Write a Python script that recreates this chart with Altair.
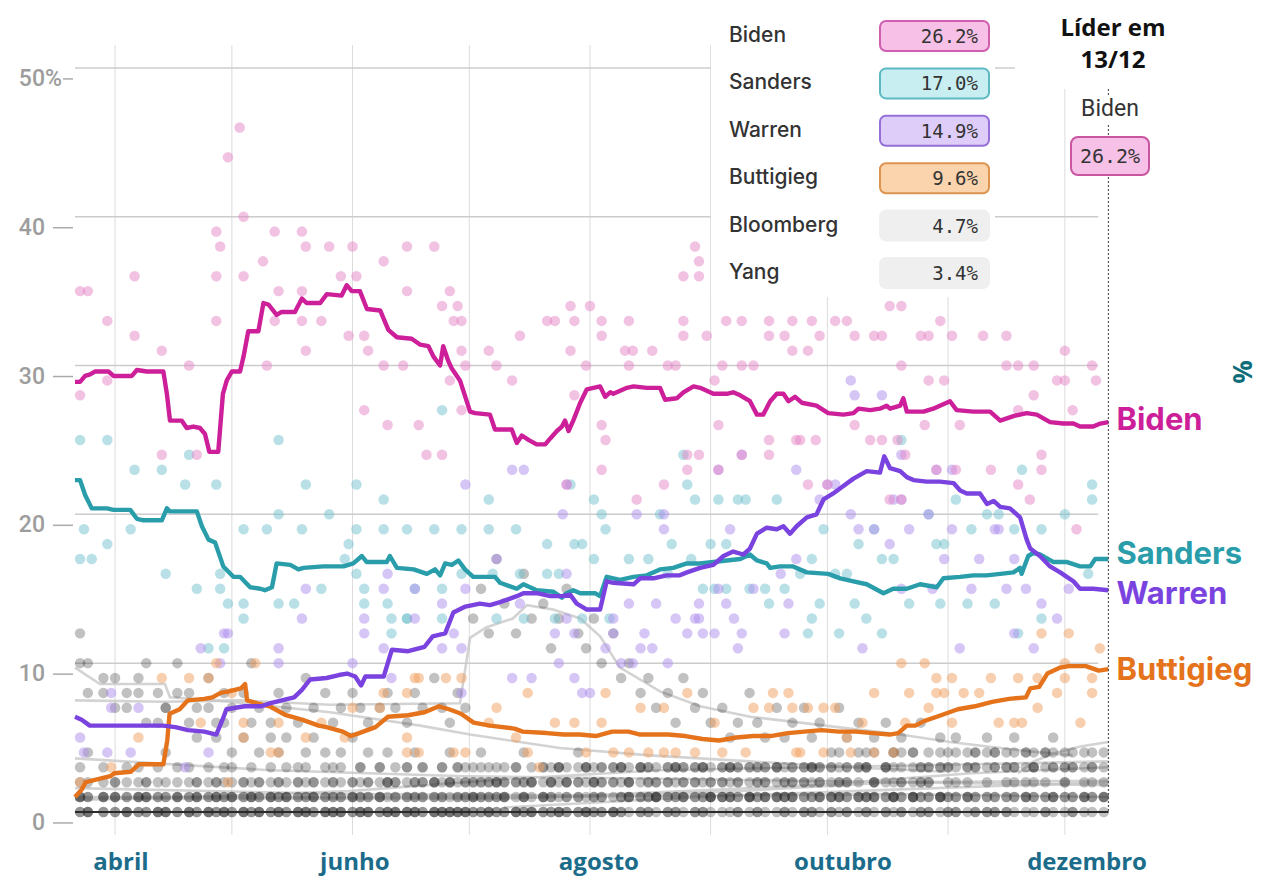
import altair as alt
import pandas as pd

# ---------------- data (day = days since 1 April 2019, pct = %) ----------------
month_start_day = [0, 30, 61, 91, 122, 153, 183, 214, 244]
month_label_day = [1.5, 61.6, 124.3, 187.0, 249.7]
month_label = ["abril", "junho", "agosto", "outubro", "dezembro"]
y_ticks = [0, 10, 20, 30, 40, 50]
end_day = 255.2

biden_line = [(-10.3,28.9),(-9.0,28.9),(-7.7,29.3),(-6.4,29.4),(-5.1,29.6),(-1.7,29.6),(-0.4,29.3),(4.3,29.3),(5.6,29.7),(8.1,29.6),(12.4,29.6),(13.3,28.1),(14.1,26.3),(17.1,26.3),(18.4,25.8),(20.1,25.9),(21.8,25.8),(23.1,25.4),(24.2,24.2),(26.5,24.2),(27.7,28.1),(28.7,29.0),(30.0,29.6),(32.1,29.6),(33.0,30.6),(34.2,32.3),(36.8,32.3),(38.1,34.2),(39.4,34.1),(41.5,33.4),(42.8,33.6),(46.2,33.6),(48.0,34.5),(49.2,34.2),(52.7,34.2),(54.4,34.8),(58.2,34.7),(59.5,35.4),(60.8,35.0),(62.9,35.0),(64.7,33.8),(68.1,33.7),(70.2,32.4),(72.4,31.9),(76.2,31.8),(78.4,31.4),(80.5,31.3),(81.8,30.6),(83.5,30.0),(84.3,31.3),(85.6,30.3),(86.5,29.8),(88.6,29.0),(91.2,26.9),(92.5,26.8),(96.3,26.7),(97.6,25.7),(101.9,25.7),(103.2,24.8),(104.5,25.3),(106.2,25.0),(108.3,24.7),(110.5,24.7),(111.8,25.1),(113.5,25.6),(114.8,25.9),(115.6,26.3),(116.5,25.6),(117.7,26.3),(119.5,27.5),(121.2,28.4),(122.9,28.5),(124.6,28.6),(125.9,27.9),(127.2,28.2),(128.0,28.1),(131.5,28.5),(133.2,28.6),(136.6,28.5),(140.0,28.5),(141.3,27.7),(144.3,27.8),(146.0,28.2),(148.6,28.6),(150.3,28.5),(153.7,28.1),(157.1,28.1),(158.8,28.2),(160.6,28.0),(163.1,27.6),(164.9,26.7),(166.5,26.7),(168.3,27.6),(170.0,28.1),(171.7,28.1),(173.0,27.6),(174.7,27.9),(176.4,27.5),(180.2,27.3),(183.2,26.8),(187.1,26.7),(189.7,26.8),(191.0,27.1),(194.0,27.0),(196.5,27.1),(198.2,27.3),(199.1,27.1),(201.7,27.3),(202.5,27.8),(203.4,26.9),(207.7,26.9),(210.2,27.1),(211.9,27.3),(214.5,27.6),(216.2,27.0),(220.5,26.9),(224.8,26.9),(227.4,26.3),(230.8,26.6),(234.2,26.8),(236.8,26.7),(240.2,26.2),(243.6,26.1),(246.2,26.1),(247.9,25.9),(251.3,25.9),(253.1,26.1),(255.2,26.2)]

sanders_line = [(-10.3,22.3),(-9.0,22.3),(-7.7,21.3),(-6.0,20.4),(-2.1,20.4),(-0.4,20.3),(3.9,20.3),(5.6,19.7),(7.3,19.6),(12.0,19.6),(13.3,20.4),(14.1,20.2),(21.0,20.2),(22.3,19.2),(24.0,18.3),(25.7,18.1),(27.8,16.5),(30.4,15.8),(32.1,15.8),(34.7,15.1),(37.3,15.0),(38.5,14.9),(40.3,15.1),(41.5,16.7),(45.0,16.6),(47.1,16.3),(48.4,16.4),(53.5,16.5),(58.7,16.5),(61.2,16.7),(63.4,17.2),(64.6,16.8),(69.8,16.8),(70.6,17.2),(72.4,16.4),(76.7,16.3),(80.1,16.0),(82.2,16.3),(83.5,15.9),(84.8,16.7),(86.5,16.6),(88.2,16.9),(89.9,16.3),(92.0,15.8),(97.6,15.8),(98.9,15.4),(103.2,15.0),(104.9,15.3),(108.3,14.9),(112.6,14.8),(114.8,14.4),(116.0,14.7),(117.7,14.9),(119.5,14.7),(123.3,14.7),(124.6,14.5),(126.3,15.8),(129.7,15.6),(133.2,15.8),(136.6,15.9),(140.0,16.3),(143.4,16.4),(146.9,16.7),(150.3,16.7),(153.7,16.8),(157.1,16.9),(160.6,17.0),(163.1,17.3),(164.9,16.9),(167.4,16.7),(168.3,16.4),(170.8,16.5),(174.2,16.5),(177.7,16.1),(183.2,16.0),(186.3,15.7),(189.7,15.5),(193.1,15.3),(197.4,14.7),(199.9,15.0),(203.4,15.0),(206.8,15.3),(211.1,15.1),(212.8,15.7),(217.1,15.8),(220.5,15.9),(223.9,15.9),(227.4,16.0),(230.8,16.1),(232.5,16.4),(232.9,16.0),(234.6,17.2),(235.9,17.4),(237.6,17.3),(241.0,16.8),(244.4,16.8),(247.9,16.5),(250.5,16.5),(251.8,17.0),(255.2,17.0)]

warren_line = [(-10.3,6.4),(-8.6,6.2),(-6.5,5.8),(-2.3,5.8),(6.2,5.8),(12.3,5.8),(15.5,5.7),(18.7,5.5),(22.9,5.4),(26.0,5.2),(27.6,6.2),(28.6,6.9),(33.3,7.1),(37.6,7.1),(39.7,7.3),(42.8,7.5),(46.0,7.7),(48.0,8.2),(50.1,8.9),(54.3,9.0),(57.5,9.2),(59.6,9.3),(61.7,9.1),(63.2,8.5),(64.3,9.1),(69.0,9.1),(71.1,10.9),(75.3,10.8),(79.5,11.1),(81.6,11.8),(84.8,12.0),(86.9,13.4),(90.0,13.8),(93.7,14.0),(96.3,13.9),(98.9,14.1),(103.2,14.5),(104.9,14.7),(108.3,14.7),(111.8,14.5),(114.8,14.5),(116.9,14.6),(118.6,14.0),(121.2,13.6),(124.6,13.6),(126.3,15.5),(128.0,15.4),(133.2,15.3),(134.9,15.7),(138.3,15.7),(141.7,15.9),(145.1,15.9),(146.9,16.1),(150.3,16.4),(153.7,16.6),(156.3,17.2),(158.8,17.5),(161.4,17.3),(163.1,17.7),(164.9,18.7),(167.4,19.1),(170.0,19.0),(171.7,19.2),(173.4,18.7),(175.1,19.2),(177.7,19.8),(180.2,20.0),(182.0,21.0),(184.5,21.4),(187.1,21.9),(189.7,22.4),(193.1,22.9),(196.5,22.8),(197.6,23.9),(199.1,23.1),(201.7,22.9),(203.4,22.5),(205.1,22.3),(208.5,22.2),(211.9,22.2),(215.4,22.1),(217.1,21.6),(218.8,21.4),(222.2,21.4),(224.0,20.7),(225.7,20.9),(227.4,20.5),(229.9,20.4),(232.5,19.8),(234.2,18.3),(235.1,17.7),(237.6,17.2),(240.2,16.5),(242.8,16.1),(244.5,15.8),(246.2,15.5),(247.9,15.0),(251.3,15.0),(255.2,14.9)]

buttigieg_line = [(-10.3,1.0),(-8.6,1.5),(-7.5,2.0),(-4.4,2.2),(-1.2,2.4),(-0.2,2.6),(4.0,2.7),(6.1,3.2),(12.4,3.2),(13.4,4.8),(14.0,6.6),(16.6,6.9),(18.7,7.5),(22.9,7.6),(25.0,7.7),(27.1,8.0),(29.2,8.1),(32.3,8.3),(33.4,8.6),(33.9,7.5),(36.5,7.3),(39.7,7.1),(43.9,6.5),(48.0,6.2),(52.3,5.8),(54.3,5.7),(58.5,5.4),(60.6,5.1),(62.7,5.3),(66.9,5.7),(70.1,6.4),(75.3,6.5),(79.5,6.7),(83.2,7.1),(85.8,6.9),(88.9,6.6),(92.1,6.0),(96.3,5.8),(102.6,5.6),(104.7,5.4),(110.9,5.3),(115.2,5.2),(119.4,5.2),(123.5,5.1),(127.7,5.4),(131.9,5.4),(134.9,5.2),(137.7,5.2),(142.1,5.2),(146.5,5.1),(150.9,4.9),(155.2,4.8),(159.6,5.0),(164.0,5.1),(168.4,5.1),(172.8,5.3),(177.1,5.4),(181.5,5.5),(185.9,5.4),(190.3,5.4),(194.7,5.3),(199.0,5.2),(201.2,5.3),(203.4,5.8),(205.6,5.8),(207.8,6.1),(212.2,6.5),(216.5,6.9),(220.9,7.1),(225.3,7.4),(229.7,7.6),(234.0,7.7),(235.1,8.3),(237.4,8.4),(239.5,9.3),(242.8,9.7),(245.0,9.8),(249.4,9.8),(252.7,9.5),(255.2,9.6)]

harris_line = [(-10.3,7.5),(12.8,7.4),(32.1,7.5),(55.2,7.2),(88.6,7.3),(91.2,11.7),(95.3,12.4),(102.2,13.0),(105.8,13.9),(112.5,13.6),(119.5,13.0),(124.6,11.8),(129.7,9.7),(140.0,8.1),(150.3,7.1),(163.1,6.4),(176.0,6.0),(188.8,5.6),(201.7,5.2),(214.5,4.7),(227.4,4.3),(237.6,4.0),(246.0,3.8)]
orourke_line = [(-10.3,9.7),(-3.9,8.6),(12.8,8.6),(14.1,7.7),(29.5,7.4),(55.2,6.7),(78.4,5.8),(91.2,5.2),(114.3,4.3),(137.4,3.8),(163.1,3.4),(188.8,3.0),(213.2,2.7)]
yang_line = [(-10.3,0.8),(20,1.0),(60,1.4),(100,2.2),(140,2.8),(180,3.0),(220,3.2),(255.2,3.4)]
bloomberg_line = [(232.0,2.6),(236,3.4),(242,4.0),(248,4.4),(255.2,4.7)]
booker_line = [(-10.3,3.6),(40,2.8),(90,2.4),(150,2.2),(200,2.0),(255.2,2.1)]
klobuchar_line = [(-10.3,1.6),(60,1.2),(120,1.1),(180,1.8),(220,2.6),(255.2,3.0)]
gabbard_line = [(-10.3,0.9),(100,0.9),(160,1.4),(200,2.0),(255.2,1.8)]
steyer_line = [(100,0.3),(150,1.0),(200,1.5),(255.2,2.0)]
castro_line = [(-10.3,1.0),(100,1.0),(200,1.2),(255.2,1.0)]

biden_polls = [(-9,35),(-7,35),(-2,33),(5,36),(5,32),(12,31),(19,30),(12,24),(21,24),(26,39),(27,38),(26,36),(26,33),(29,44),(32,46),(33,40),(33,36),(38,37),(39,30),(41,39),(42,35),(41,33),(48,39),(48,35),(48,33),(49,38),(49,31),(53,33),(55,38),(58,36),(60,32),(61,38),(62,36),(64,32),(65,31),(64,27),(69,37),(70,26),(69,30),(-9,28),(-2,29),
  (75,38),(82,38),(75,35),(84,34),(86,35),(87,33),(88,34),(89,33),(89,31),(90,30),(86,29),(89,27),(74,30),(78,26),(80,24),(84,24),(96,31),(98,30),(102,29),(104,32),(111,33),(113,33),(117,34),(118,33),(117,31),(122,34),(121,30),(118,28),(125,33),(125,32),(132,33),(131,31),(133,31),(138,31),(132,30),(142,30),(144,30),(146,33),(146,32),(149,38),(150,37),(146,36),(150,36),(152,32),(154,29),(157,33),(161,33),(168,33),(174,33),(179,33),(156,30),(161,30),(164,30),(168,32),(172,32),(174,31),(178,31),(168,25),(175,25),(180,25),(155,26),(125,26),(126,25),(161,24),(155,23),(168,24),(147,24),(150,24),(125,23),(141,22),(134,21),(116,22),(147,23),
  (185,33),(188,33),(181,32),(190,32),(195,32),(197,32),(199,34),(202,34),(207,32),(209,32),(212,33),(215,32),(223,32),(229,32),(229,30),(232,30),(236,30),(244,31),(251,30),(252,29),(242,29),(244,29),(202,30),(209,29),(213,29),(217,26),(208,26),(201,25),(190,26),(194,25),(197,25),(232,27),(236,28),(246,27),(238,24),(238,23),(225,23),(232,22),(235,21),(216,23),(211,23),(202,21),(199,21),(247,19),(203,24),(183,22),(178,22),(176,25)]

sanders_polls = [(-9,25),(-2,25),(5,23),(12,23),(19,24),(18,22),(26,22),(42,25),(49,22),(62,22),(69,21),(-8,19),(-2,18),(4,19),(-9,17),(-6,17),(13,16),(21,15),(27,16),(27,15),(29,14),(33,14),(33,13),(33,19),(39,19),(42,20),(48,19),(55,20),(42,14),(46,14),(53,15),(62,19),(60,18),(59,17),(69,19),(75,19),(62,16),(64,15),(64,14),(71,13),(75,13),(71,12),(24,11),(28,11),(84,27),(96,21),(117,22),(123,21),(147,22),(149,21),(155,21),(160,21),(162,21),(170,21),(146,24),(82,19),(89,19),(96,19),(103,19),(111,18),(118,18),(120,18),(125,20),(126,19),(140,20),(143,18),(153,18),(157,18),(154,15),(157,15),(163,15),(167,15),(172,15),(176,16),(148,17),(151,15),(168,14),(142,16),(137,17),(132,17),(123,17),(114,16),(111,16),(104,16),(97,16),(89,16),(84,15),(77,15),(70,14),(75,13),(84,13),(98,13),(105,13),(113,13),(120,13),(127,13),(178,12),
  (179,17),(182,19),(185,16),(188,16),(191,18),(195,19),(197,17),(200,17),(202,25),(209,20),(211,18),(213,18),(216,21),(220,19),(224,20),(227,20),(231,19),(233,23),(238,19),(244,20),(251,22),(251,21),(250,16),(190,14),(193,13),(197,12),(204,14),(212,14),(219,14),(226,14),(232,12),(238,13),(179,13),(186,12),(181,14)]

warren_polls = [(28,12),(42,11),(42,10),(48,13),(64,13),(64,12),(70,16),(69,15),(69,11),(77,15),(-1,8),(-1,7),(6,7),(-9,5),(-8,4),(-2,4),(4,4),(24,4),(18,3),(49,15),(61,10),(71,9),(22,11),(27,10),(29,12),
  (90,22),(115,20),(118,12),(134,20),(141,20),(141,19),(155,23),(161,24),(158,19),(164,15),(155,15),(149,13),(150,13),(136,12),(171,16),(175,17),(175,23),(183,22),(102,23),(105,23),(116,22),(98,17),(116,13),(128,13),(77,13),(90,15),(104,14),(116,16),
  (84,14),(84,11),(87,12),(89,11),(89,8),(102,9),(107,9),(113,12),(114,10),(118,9),(120,8),(122,8),(126,11),(128,12),(132,14),(130,10),(133,10),(135,11),(138,11),(139,14),(142,10),(144,13),(147,12),(150,14),(151,12),(154,12),(157,14),(159,13),(161,12),(160,11),(172,12),(173,14),
  (189,29),(190,28),(197,28),(202,24),(211,23),(215,23),(209,20),(202,21),(200,21),(181,21),(185,22),(189,20),(191,19),(195,19),(199,18),(204,19),(213,17),(215,19),(227,19),(231,17),(234,15),(238,14),(242,13),(245,15),(192,11),(202,15),(210,15),(217,11),(231,12),(236,11),(226,19),(222,17),(220,15),(229,15)]

buttigieg_polls = [(12,9),(19,9),(26,10),(6,5),(-1,3),(-9,2),(33,6),(33,5),(40,4),(42,6),(42,4),(53,6),(61,7),(68,7),(69,8),(75,8),(77,9),(49,5),(59,5),(75,4),(22,6),(29,2),(24,9),(30,8),(36,10),
  (78,9),(85,9),(89,9),(75,5),(78,4),(87,4),(90,4),(96,6),(98,7),(103,5),(106,8),(106,4),(109,3),(113,6),(118,6),(121,4),(125,6),(126,8),(128,4),(132,4),(135,7),(137,4),(141,4),(141,7),(144,4),(147,8),(149,4),(154,6),(156,4),(162,4),(164,7),(168,7),(169,8),(173,8),(175,4),
  (174,7),(178,7),(182,7),(185,7),(176,4),(182,4),(189,4),(195,4),(200,4),(188,5),(192,6),(195,8),(202,10),(204,8),(208,10),(209,7),(211,9),(211,8),(213,8),(215,9),(218,8),(222,8),(225,9),(227,6),(231,6),(232,9),(233,6),(237,9),(237,7),(238,12),(242,8),(244,10),(244,9),(248,6),(251,9),(251,8),(253,11),(245,12),(203,6),(215,6)]

poll_day = [-9,-7,-3,0,3,6,8,11,13,16,
            19,21,24,26,28,30,33,35,37,40,
            42,44,47,49,51,54,56,58,61,63,
            65,68,70,72,75,77,79,82,84,86,
            88,90,92,94,96,98,100,103,105,107,
            110,112,114,116,119,121,123,125,128,130,
            132,135,137,139,142,144,146,149,151,153,
            156,158,160,163,165,167,170,172,174,177,
            179,181,184,186,188,191,193,195,198,200,
            202,205,207,209,212,214,216,219,221,224,
            226,229,231,234,236,239,241,244,246,249,
            251,254]
harris_polls = [10,8,9,7,8,9,6,8,7,10,
                8,7,9,6,8,7,8,10,7,6,
                8,7,6,9,7,8,6,7,8,7,
                6,7,8,7,6,8,7,9,7,6,
                8,7,13,15,12,17,14,12,16,13,
                14,11,13,15,12,11,13,10,12,9,
                10,8,9,7,8,6,9,7,8,6,
                7,5,6,8,6,5,7,5,6,7,
                5,6,4,7,5,6,4,5,6,4,
                5,4,6,3,5,4,5,3,4,5,
                4,3,5,4,3,4,5,3,None,None,
                None,None]
orourke_polls = [12,10,8,9,7,8,10,6,7,8,
                 6,5,7,5,6,4,5,6,4,5,
                 4,5,3,4,5,4,3,4,5,3,
                 4,3,4,2,3,4,3,2,3,4,
                 3,2,3,4,2,3,2,3,4,2,
                 3,2,3,2,4,3,2,3,2,3,
                 2,3,2,1,3,2,2,3,2,1,
                 2,3,2,1,2,3,2,1,2,2,
                 3,2,1,2,2,3,1,2,2,1,
                 2,1,2,2,1,None,None,None,None,None,
                 None,None,None,None,None,None,None,None,None,None,
                 None,None]
# each digit = one minor candidate's result in that poll
others_polls = ["3211010","4121000","3112010","2211010","3120100","3211001","2112010","3211000","4201010","3121010",
                "3121000","2211010","3102100","2121010","3201100","3120101","2211000","3112010","2121000","3211010",
                "2210100","3121010","2102100","3211000","2121010","3201010","2112000","3121000","2211010","3102100",
                "2211000","3121010","2212000","2311000","3201010","2121000","3212010","2211000","3121000","2202010",
                "2311000","3201010","2211100","2321010","3211000","2212100","2311010","3212000","2211010","2312000",
                "3211100","2312010","3213000","2312100","3212010","2313000","3212100","2312010","3213000","2313100",
                "3212110","2313100","3213100","2312110","3212100","3313100","2313110","3212100","3313010","2312110",
                "3312110","2313110","3213100","3312110","2313100","3212110","3313110","2312100","3213110","3312100",
                "3312010","2313110","3213010","3412110","2313010","3412110","3313010","2412110","3313010","3412110",
                "3412010","2413110","3312010","4312010","3413110","3312010","2413010","3412110","4313010","3412010",
                "3413010","4312010","3413021","3412011","4313021","3412010","3413011","4312021","3413010","3412011",
                "3413021","4312011"]

legend_names = ["Biden", "Sanders", "Warren", "Buttigieg", "Bloomberg", "Yang"]
legend_values = ["26.2%", "17.0%", "14.9%", "9.6%", "4.7%", "3.4%"]
leader_name = "Biden"
leader_value = "26.2%"

# ---------------- styling ----------------
W, H = 1035, 790
xs = alt.Scale(domain=[-10.3, 255.6], nice=False, zero=False)
ys = alt.Scale(domain=[-1.55, 51.54], nice=False, zero=False)

COL = {"Biden": "#cc1f99", "Sanders": "#2a9dab", "Warren": "#7a43e0", "Buttigieg": "#e5731c"}
DOT = {"Biden": "#e685c7", "Sanders": "#74c1cd", "Warren": "#ad8eee", "Buttigieg": "#f29f5e"}
BOX_FILL = ["#f7c1e7", "#c8eef1", "#ddcdf8", "#fbd3ad", "#efefef", "#efefef"]
BOX_STROKE = ["#cf5fae", "#5bb9c4", "#9470d8", "#dc9450", "#efefef", "#efefef"]


def X(f):
    return alt.X(f"{f}:Q", scale=xs, axis=None)


def Y(f):
    return alt.Y(f"{f}:Q", scale=ys, axis=None)


def pairs_df(pairs, name):
    return pd.DataFrame({"day": [p[0] for p in pairs], "pct": [p[1] for p in pairs], "cand": name})


one = pd.DataFrame({"a": [0]})
layers = []

# grid
layers.append(alt.Chart(pd.DataFrame({"day": month_start_day})).mark_rule(color="#dcdcdc", strokeWidth=1)
              .encode(x=X("day"), y=alt.value(0), y2=alt.value(H)))
layers.append(alt.Chart(pd.DataFrame({"pct": y_ticks[1:], "x0": -10.3, "x1": 252.6}))
              .mark_rule(color="#cccccc", strokeWidth=1.5).encode(y=Y("pct"), x=X("x0"), x2="x1"))

# gray trend lines (under the dots, faint)
for pts in [castro_line, steyer_line, gabbard_line, klobuchar_line, booker_line,
            yang_line, bloomberg_line, orourke_line, harris_line]:
    layers.append(alt.Chart(pairs_df(pts, "g")).mark_line(color="#c4c4c4", strokeWidth=2.6, opacity=0.75)
                  .encode(x=X("day"), y=Y("pct"), order="day:Q"))

# gray poll dots
rows = []
for d, h, o, s in zip(poll_day, harris_polls, orourke_polls, others_polls):
    if h is not None:
        rows.append((d, h))
    if o is not None:
        rows.append((d, o))
    for ch in s:
        rows.append((d, int(ch)))
gray_df = pd.DataFrame(rows, columns=["day", "pct"])
layers.append(alt.Chart(gray_df).mark_circle(size=110, color="#222222", opacity=0.28)
              .encode(x=X("day"), y=Y("pct")))

# colored poll dots
for name, pts in [("Sanders", sanders_polls), ("Warren", warren_polls),
                  ("Buttigieg", buttigieg_polls), ("Biden", biden_polls)]:
    layers.append(alt.Chart(pairs_df(pts, name)).mark_circle(size=110, color=DOT[name], opacity=0.5)
                  .encode(x=X("day"), y=Y("pct")))

# zero baseline
layers.append(alt.Chart(pd.DataFrame({"pct": [0], "x0": -10.3, "x1": end_day}))
              .mark_rule(color="#2b2b2b", strokeWidth=2).encode(y=Y("pct"), x=X("x0"), x2="x1"))

# main trend lines
for name, pts in [("Buttigieg", buttigieg_line), ("Sanders", sanders_line),
                  ("Warren", warren_line), ("Biden", biden_line)]:
    layers.append(alt.Chart(pairs_df(pts, name)).mark_line(color=COL[name], strokeWidth=4.4,
                                                              strokeJoin="round")
                  .encode(x=X("day"), y=Y("pct"), order="day:Q"))

# dotted "today" line
layers.append(alt.Chart(pd.DataFrame({"day": [end_day]}))
              .mark_rule(color="#555555", strokeWidth=1.2, strokeDash=[2, 2])
              .encode(x=X("day"), y=alt.value(44), y2=alt.value(767)))

# end labels
for name, pct, dy in [("Biden", 26.2, -1), ("Sanders", 17.0, -4), ("Warren", 14.9, 5), ("Buttigieg", 9.6, 2)]:
    layers.append(alt.Chart(pd.DataFrame({"day": [end_day], "pct": [pct], "t": [name]}))
                  .mark_text(align="left", baseline="middle", dx=8, dy=dy, font="Inter",
                             fontSize=31, fontWeight="bold", color=COL[name])
                  .encode(x=X("day"), y=Y("pct"), text="t:N"))

# y axis labels and ticks (labels sit 11px below their gridlines, as in the source)
tick_df = pd.DataFrame({"v": y_ticks})
layers.append(alt.Chart(tick_df).mark_text(align="right", baseline="middle", dy=11, font="Roboto",
                                           fontSize=23, fontWeight=500, color="#9d9d9d")
              .encode(x=alt.value(-30), y=Y("v"), text=alt.Text("v:Q", format="d")))
layers.append(alt.Chart(pd.DataFrame({"v": [50]})).mark_text(align="left", baseline="middle", dy=11,
                                                             font="Roboto", fontSize=23, fontWeight=500,
                                                             color="#9d9d9d", text="%")
              .encode(x=alt.value(-30), y=Y("v")))
layers.append(alt.Chart(pd.DataFrame({"v": y_ticks[:-1]})).mark_rule(yOffset=11, color="#aaaaaa", strokeWidth=1.5)
              .encode(y=Y("v"), x=alt.value(-22), x2=alt.value(-2)))
layers.append(alt.Chart(pd.DataFrame({"v": [50]})).mark_rule(yOffset=11, color="#aaaaaa", strokeWidth=1.5)
              .encode(y=Y("v"), x=alt.value(-12), x2=alt.value(-2)))

# month labels
layers.append(alt.Chart(pd.DataFrame({"day": month_label_day, "t": month_label}))
              .mark_text(baseline="middle", font="Open Sans", fontSize=24, fontWeight="bold", color="#1b6b8a")
              .encode(x=X("day"), y=alt.value(818), text="t:N"))

# legend panel
layers.append(alt.Chart(one).mark_rect(color="white")
              .encode(x=alt.value(636), x2=alt.value(920), y=alt.value(-37), y2=alt.value(252)))
for i, (nm, val) in enumerate(zip(legend_names, legend_values)):
    yc = -9 + i * 47.4
    layers.append(alt.Chart(one).mark_rect(cornerRadius=6, fill=BOX_FILL[i], stroke=BOX_STROKE[i], strokeWidth=2)
                  .encode(x=alt.value(805), x2=alt.value(914), y=alt.value(yc - 15), y2=alt.value(yc + 15)))
    layers.append(alt.Chart(one).mark_text(align="left", baseline="middle", font="Inter", fontSize=21,
                                           fontWeight=500, color="#333333", text=nm)
                  .encode(x=alt.value(654), y=alt.value(yc)))
    layers.append(alt.Chart(one).mark_text(align="right", baseline="middle", font="DejaVu Sans Mono",
                                           fontSize=19, color="#333333", text=val)
                  .encode(x=alt.value(903), y=alt.value(yc + 1)))

# leader annotation
layers.append(alt.Chart(one).mark_rect(color="white")
              .encode(x=alt.value(940), x2=alt.value(1170), y=alt.value(-37), y2=alt.value(44)))
layers.append(alt.Chart(one).mark_text(baseline="middle", font="Open Sans", fontSize=24, fontWeight="bold",
                                       color="#111111", text="Líder em")
              .encode(x=alt.value(1038), y=alt.value(-16)))
layers.append(alt.Chart(one).mark_text(baseline="middle", font="Open Sans", fontSize=24, fontWeight="bold",
                                       color="#111111", text="13/12")
              .encode(x=alt.value(1038), y=alt.value(16)))
layers.append(alt.Chart(one).mark_rect(color="white")
              .encode(x=alt.value(1007), x2=alt.value(1064), y=alt.value(50), y2=alt.value(78)))
layers.append(alt.Chart(one).mark_text(baseline="middle", font="Roboto", fontSize=23, color="#333333",
                                       text=leader_name)
              .encode(x=alt.value(1035), y=alt.value(64)))
layers.append(alt.Chart(one).mark_rect(cornerRadius=7, fill="#f7c1e7", stroke="#c8559f", strokeWidth=2)
              .encode(x=alt.value(996), x2=alt.value(1074), y=alt.value(92), y2=alt.value(130)))
layers.append(alt.Chart(one).mark_text(baseline="middle", font="DejaVu Sans Mono", fontSize=20,
                                       color="#333333", text=leader_value)
              .encode(x=alt.value(1035), y=alt.value(112)))

# rotated % at the right edge
layers.append(alt.Chart(one).mark_text(baseline="middle", font="Open Sans", fontSize=26, fontWeight="bold",
                                       color="#0f6d7a", angle=90, text="%")
              .encode(x=alt.value(1166), y=alt.value(327)))

chart = alt.layer(*layers).properties(
    width=W, height=H,
    padding={"left": 67, "top": 37, "right": 150, "bottom": 42},
    autosize=alt.AutoSizeParams(type="none"),
    background="white",
).configure_view(stroke=None)

chart.save("out.html", embed_options={"renderer": "svg", "actions": False})
